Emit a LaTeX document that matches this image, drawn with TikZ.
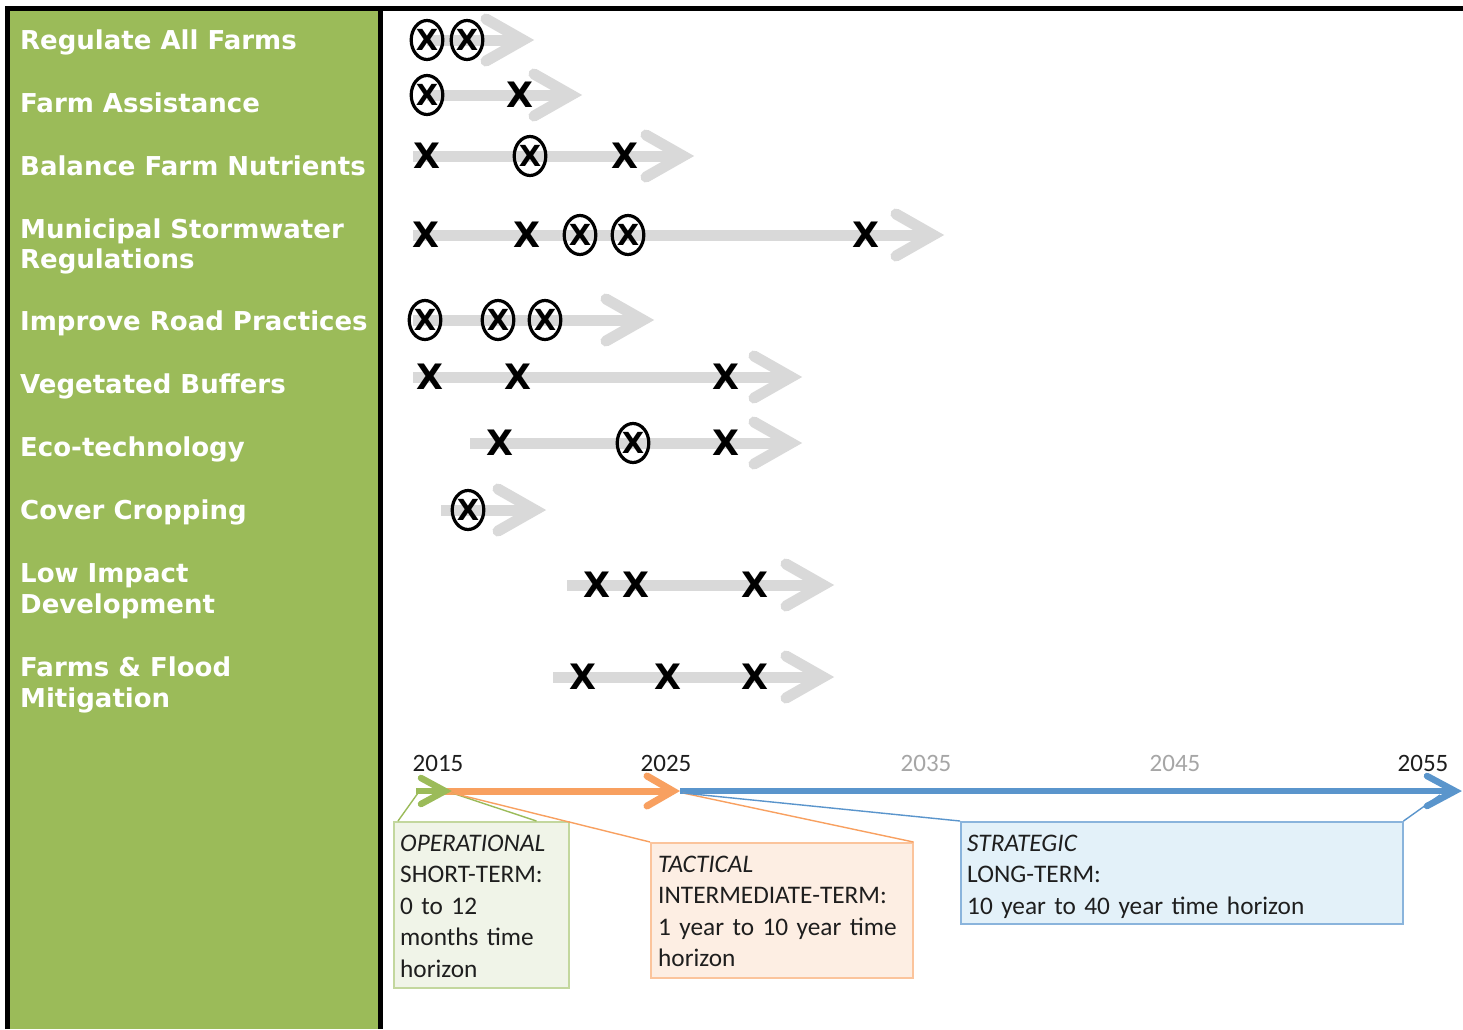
\documentclass[tikz,border=0pt]{standalone}
\usepackage{fontspec}
\usetikzlibrary{shapes.geometric,calc}
\newfontfamily\labfont{DejaVu Sans}
\newfontfamily\calfont{Carlito}
\newfontfamily\xfont{DejaVu Sans}
\definecolor{panelgreen}{HTML}{9BBB59}
\definecolor{arrowgrey}{HTML}{D9D9D9}
\definecolor{tlgreen}{HTML}{9BBB59}
\definecolor{tlorange}{HTML}{F8A060}
\definecolor{tlblue}{HTML}{5A95CC}
\definecolor{gboxfill}{HTML}{F0F4E8}
\definecolor{gboxdraw}{HTML}{C3D79E}
\definecolor{oboxfill}{HTML}{FDEEE3}
\definecolor{oboxdraw}{HTML}{FBC49C}
\definecolor{bboxfill}{HTML}{E3F1F9}
\definecolor{bboxdraw}{HTML}{8AB4DC}
\definecolor{yeargrey}{HTML}{A6A6A6}
\definecolor{txt}{HTML}{1E1E1E}
\tikzset{
  lab/.style={anchor=base west, inner sep=0pt, text=white, font=\labfont\bfseries\fontsize{26}{30}\selectfont},
  shaft/.style={draw=arrowgrey, line width=11pt, line cap=butt},
  ghead/.style={draw=arrowgrey, line width=11pt, line cap=round, line join=miter},
  xm/.style={inner sep=0pt, text=black, font=\xfont\bfseries\fontsize{35}{35}\selectfont},
  om/.style={ellipse, draw=black, line width=3.2pt, minimum width=25pt, minimum height=39pt, inner sep=0pt, text=black, font=\xfont\bfseries\fontsize{29}{29}\selectfont},
  yr/.style={anchor=base, inner sep=0pt, text=txt, font=\calfont\fontsize{25}{25}\selectfont},
  boxtext/.style={anchor=base west, inner sep=0pt, text=txt, align=left, font=\calfont\fontsize{25.3}{31.5}\selectfont},
  callbox/.style={anchor=north west, inner sep=0pt, line width=1.5pt},
}
\begin{document}
\begin{tikzpicture}[x=1pt,y=-1pt]
\useasboundingbox (0,0) rectangle (1463,1029);
\fill[white] (0,0) rectangle (1463,1029);
% left panel and frame
\fill[panelgreen] (10,10) rectangle (379,1029);
\draw[line width=5pt] (7.5,1029) -- (7.5,8.5) -- (1463,8.5);
\draw[line width=5pt] (380.5,8.5) -- (380.5,1029);

% labels
\node[lab] (l1) at (20,49) {Regulate All Farms};
\node[lab] (l2) at (20,112) {Farm Assistance};
\node[lab] (l3) at (20,175) {Balance Farm Nutrients};
\node[lab] (l4a) at (20,238) {Municipal Stormwater};
\node[lab] (l4b) at (20,268) {Regulations};
\node[lab] (l5) at (20,330) {Improve Road Practices};
\node[lab] (l6) at (20,393) {Vegetated Buffers};
\node[lab] (l7) at (20,456) {Eco-technology};
\node[lab] (l8) at (20,519) {Cover Cropping};
\node[lab] (l9a) at (20,582) {Low Impact};
\node[lab] (l9b) at (20,613) {Development};
\node[lab] (l10a) at (20,676) {Farms \& Flood};
\node[lab] (l10b) at (20,707) {Mitigation};

% grey arrows
\foreach \n/\y/\s/\t in {1/40/427/523, 2/95/427/571, 3/156/413/683, 4/235/413/933, 5/320/413/643,
                         6/377/413/791, 7/443/470/791, 8/510/441/535, 9/585/567/823, 10/677/553/823}{
  \coordinate (s\n) at (\s,\y);
  \coordinate (t\n) at (\t,\y);
  \draw[shaft] (s\n) -- (t\n);
  \draw[ghead] ($(t\n)+(-37,-21)$) -- (t\n) -- ($(t\n)+(-37,21)$);
}

% markers
\node[om] (m1a) at (427,40) {X};
\node[om] (m1b) at (467,40) {X};
\node[om] (m2a) at (427,95) {X};
\node[xm] (m2b) at (520,95) {X};
\node[xm] (m3a) at (427,156) {X};
\node[om] (m3b) at (530,156) {X};
\node[xm] (m3c) at (625,156) {X};
\node[xm] (m4a) at (426,235) {X};
\node[xm] (m4b) at (527,235) {X};
\node[om] (m4c) at (580,235) {X};
\node[om] (m4d) at (628,235) {X};
\node[xm] (m4e) at (866,235) {X};
\node[om] (m5a) at (425,320) {X};
\node[om] (m5b) at (498,320) {X};
\node[om] (m5c) at (545,320) {X};
\node[xm] (m6a) at (430,377) {X};
\node[xm] (m6b) at (518,377) {X};
\node[xm] (m6c) at (726,377) {X};
\node[xm] (m7a) at (500,443) {X};
\node[om] (m7b) at (633,443) {X};
\node[xm] (m7c) at (726,443) {X};
\node[om] (m8a) at (468,510) {X};
\node[xm] (m9a) at (597,585) {X};
\node[xm] (m9b) at (636,585) {X};
\node[xm] (m9c) at (755,585) {X};
\node[xm] (m10a) at (583,677) {X};
\node[xm] (m10b) at (668,677) {X};
\node[xm] (m10c) at (755,677) {X};

% years
\node[yr] (y2015) at (438,771) {2015};
\node[yr] (y2025) at (666,771) {2025};
\node[yr, text=yeargrey] (y2035) at (926,771) {2035};
\node[yr, text=yeargrey] (y2045) at (1175,771) {2045};
\node[yr] (y2055) at (1423,771) {2055};

% timeline
\coordinate (g0) at (416,791);
\coordinate (g1) at (445,791);
\coordinate (o1) at (673,791);
\coordinate (b0) at (680,791);
\coordinate (b1) at (1455,791);
\draw[tlblue, line width=6pt] (b0) -- (b1);
\draw[tlblue, line width=6.5pt, line cap=round, line join=miter] ($(b1)+(-28,-15)$) -- (b1) -- ($(b1)+(-28,15)$);
\draw[tlorange, line width=7pt] (g1) -- (o1);
\draw[tlorange, line width=7pt, line cap=round, line join=miter] ($(o1)+(-26,-15)$) -- (o1) -- ($(o1)+(-26,15)$);
\draw[tlgreen, line width=6pt] (g0) -- (g1);
\draw[tlgreen, line width=6.5pt, line cap=round, line join=miter] ($(g1)+(-24,-13)$) -- (g1) -- ($(g1)+(-24,13)$);

% callout boxes
\node[callbox, fill=gboxfill, draw=gboxdraw, minimum width=175pt, minimum height=166pt] (gb) at (393,821) {};
\node[callbox, fill=oboxfill, draw=oboxdraw, minimum width=262pt, minimum height=135pt] (ob) at (650,842) {};
\node[callbox, fill=bboxfill, draw=bboxdraw, minimum width=442pt, minimum height=102pt] (bb) at (960,821) {};

\coordinate (gp1) at (418,793);
\coordinate (gp2) at (452,793);
\coordinate (op1) at (452,793);
\coordinate (op2) at (683,793);
\coordinate (bp1) at (683,793);
\coordinate (bp2) at (1440,795);
\draw[tlgreen, line width=1.4pt] ([xshift=5pt]gb.north west) -- (gp1);
\draw[tlgreen, line width=1.4pt] ([xshift=-33pt]gb.north east) -- (gp2);
\draw[tlorange, line width=1.4pt] (ob.north west) -- (op1);
\draw[tlorange, line width=1.4pt] (ob.north east) -- (op2);
\draw[tlblue, line width=1.4pt] (bb.north west) -- (bp1);
\draw[tlblue, line width=1.4pt] (bb.north east) -- (bp2);

% callout texts
\node[boxtext, text width=165pt] (gt) at (400,851) {{\itshape OPERATIONAL}\\SHORT-TERM:\\0 to 12\\months time\\horizon};
\node[boxtext, text width=250pt] (ot) at (658,872) {{\itshape TACTICAL}\\INTERMEDIATE-TERM:\\1 year to 10 year time\\horizon};
\node[boxtext, text width=430pt] (bt) at (967,851) {{\itshape STRATEGIC}\\LONG-TERM:\\10 year to 40 year time horizon};
\end{tikzpicture}
\end{document}
